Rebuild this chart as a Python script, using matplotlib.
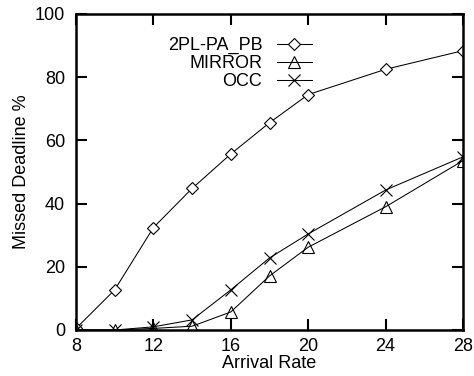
import matplotlib.pyplot as plt

plt.rcParams['font.family'] = ['Liberation Sans', 'DejaVu Sans']

# data
arrival = [8, 10, 12, 14, 16, 18, 20, 24, 28]
pl_pa_pb = [0.5, 12.7, 32.4, 44.8, 55.7, 65.6, 74.5, 82.5, 88.4]
mirror = [0, 0, 0.5, 1.2, 5.7, 17.1, 26.2, 39, 53.6]
occ = [0, 0, 1, 3.2, 12.7, 22.8, 30.4, 44.3, 54.8]
xticks = [8, 12, 16, 20, 24, 28]
yticks = [0, 20, 40, 60, 80, 100]

fig = plt.figure(figsize=(4.74, 3.76), dpi=100)
ax = fig.add_axes([76 / 474, 1 - 330 / 376, 387 / 474, 316 / 376])

ax.plot(arrival, pl_pa_pb, color='black', lw=0.75, marker='D', ms=6,
        mfc='white', mec='black', mew=0.8, label='2PL-PA_PB')
ax.plot(arrival, mirror, color='black', lw=0.75, marker='^', ms=9,
        mfc='none', mec='black', mew=0.8, label='MIRROR')
ax.plot(arrival, occ, color='black', lw=0.75, marker='x', ms=9,
        mec='black', mew=0.8, label='OCC')

ax.set_xlim(8, 28)
ax.set_ylim(0, 100)
ax.set_xticks(xticks)
ax.set_yticks(yticks)
ax.tick_params(direction='in', length=8, width=1.5, top=True, right=True,
               labelsize=13)
ax.tick_params(axis='x', pad=6)
ax.tick_params(axis='y', pad=8)
for s in ax.spines.values():
    s.set_linewidth(1.8)

ax.set_xlabel('Arrival Rate', fontsize=13, labelpad=0)
ax.set_ylabel('Missed Deadline %', fontsize=13, labelpad=3)

# gnuplot-style key: right-aligned text, sample after it
ax.legend(loc='upper right', bbox_to_anchor=(0.633, 0.955), frameon=False,
          markerfirst=False, fontsize=13, handlelength=1.95, handletextpad=0.8,
          labelspacing=0.05, borderpad=0)
for t in ax.get_legend().get_texts():
    t.set_ha('right')
    t.set_position((0, 0))

fig.savefig('out.png', dpi=100)
